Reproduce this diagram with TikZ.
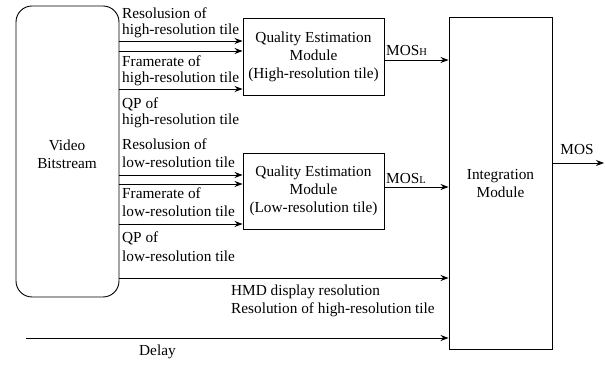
\documentclass[tikz,border=0pt]{standalone}
\usepackage{fontspec}
\setmainfont{Liberation Serif}
\newfontfamily\timesfont{Liberation Serif}
\usetikzlibrary{arrows.meta}
\tikzset{
  box/.style={draw, line width=0.9pt, inner sep=0pt},
  lbl/.style={font=\timesfont\fontsize{15.3}{18}\selectfont, inner sep=0pt, anchor=west},
  ctr/.style={font=\timesfont\fontsize{15.3}{18}\selectfont, inner sep=0pt, align=center},
  arr/.style={line width=0.9pt, -{Stealth[length=8pt,width=6pt]}},
  ln/.style={line width=0.9pt}
}
\begin{document}
\begin{tikzpicture}[x=1pt,y=-1pt]
\useasboundingbox (0,0) rectangle (606,366);
% boxes
\node[box, rounded corners=16pt, minimum width=103pt, minimum height=291pt] (vb) at (67.5,151.5) {};
\node[ctr] (vbt) at (67,154) {Video\\Bitstream};
\node[box, minimum width=141pt, minimum height=77pt] (qh) at (313.5,56.5) {};
\node[ctr] (qht) at (313.5,57) {Quality Estimation\\Module\\(High-resolution tile)};
\node[box, minimum width=141pt, minimum height=76pt] (ql) at (313.5,191) {};
\node[ctr] (qlt) at (313.5,191) {Quality Estimation\\Module\\(Low-resolution tile)};
\node[box, minimum width=103pt, minimum height=332pt] (im) at (500.5,183) {};
\node[ctr] (imt) at (500.5,184) {Integration\\Module};
% labels high
\node[lbl] (l1) at (122,13) {Resolusion of};
\node[lbl] (l2) at (122,31) {high-resolution tile};
\node[lbl] (l3) at (122,61) {Framerate of};
\node[lbl] (l4) at (122,79) {high-resolution tile};
\node[lbl] (l5) at (122,104) {QP of};
\node[lbl] (l6) at (122,121) {high-resolution tile};
% labels low
\node[lbl] (l7) at (122,144) {Resolusion of};
\node[lbl] (l8) at (122,162) {low-resolution tile};
\node[lbl] (l9) at (122,193) {Framerate of};
\node[lbl] (l10) at (122,211) {low-resolution tile};
\node[lbl] (l11) at (122,238) {QP of};
\node[lbl] (l12) at (122,256) {low-resolution tile};
% arrows to QEM H
\draw[arr] (vb.east |- 0,41) -- (qh.west |- 0,41);
\draw[arr] (vb.east |- 0,51) -- (qh.west |- 0,51);
\draw[arr] (vb.east |- 0,89) -- (qh.west |- 0,89);
% arrows to QEM L
\draw[arr] (vb.east |- 0,175) -- (ql.west |- 0,175);
\draw[arr] (vb.east |- 0,184) -- (ql.west |- 0,184);
\draw[arr] (vb.east |- 0,224) -- (ql.west |- 0,224);
% MOS arrows
\draw[arr] (qh.east |- 0,60) -- (im.west |- 0,60);
\node[lbl] (mh) at (386,51) {MOS{\fontsize{10.5}{12}\selectfont H}};
\draw[arr] (ql.east |- 0,187) -- (im.west |- 0,187);
\node[lbl] (ml) at (386,179) {MOS{\fontsize{10.5}{12}\selectfont L}};
\coordinate (out) at (604,163);
\draw[arr] (im.east |- out) -- (out);
\node[ctr] (mos) at (577,150) {MOS};
% HMD
\draw[arr] (vb.east |- 0,278) -- (im.west |- 0,278);
\node[lbl] (h1) at (231,292) {HMD display resolution};
\node[lbl] (h2) at (231,310) {Resolution of high-resolution tile};
% Delay
\coordinate (ds) at (26,338);
\draw[arr] (ds) -- (im.west |- ds);
\node[lbl] (dl) at (139,352) {Delay};
\end{tikzpicture}
\end{document}
